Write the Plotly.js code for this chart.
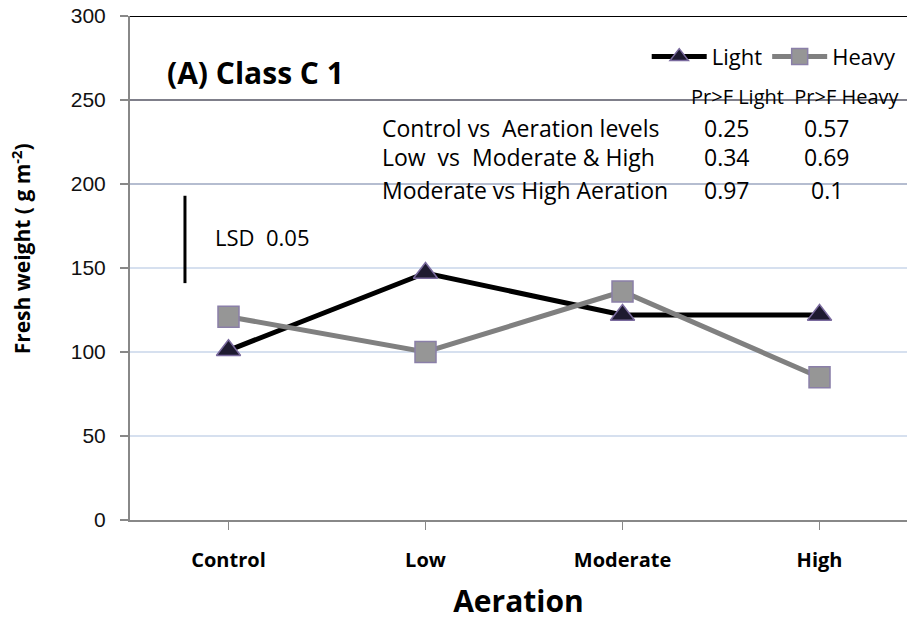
<!DOCTYPE html>
<html>
<head>
<meta charset="utf-8">
<script src="https://cdn.plot.ly/plotly-3.0.1.min.js"></script>
<style>html,body{margin:0;padding:0;background:#fff;}#chart{width:907px;height:621px;}</style>
</head>
<body>
<div id="chart"></div>
<script>
// ---- data ----
const categories = ["Control", "Low", "Moderate", "High"];
const lightValues = [101, 147, 122, 122];
const heavyValues = [121, 100, 136, 85];
const lsdRange = [141, 193];           // LSD 0.05 bar, low/high (g m-2)
const lsdLabel = "LSD  0.05";
const contrasts = ["Control vs&nbsp; Aeration levels", "Low&nbsp; vs&nbsp; Moderate &amp; High", "Moderate vs High Aeration"];
const prLight = ["0.25", "0.34", "0.97"];
const prHeavy = ["0.57", "0.69", "0.1"];
const prHeaders = ["Pr>F Light", "Pr>F Heavy"];
const yTicks = [0, 50, 100, 150, 200, 250, 300];

const FONT = "'Open Sans', Lato, sans-serif";

const traces = [
  {
    x: categories, y: lightValues, name: "Light", type: "scatter", mode: "lines+markers",
    line: {color: "#000000", width: 5},
    marker: {symbol: "triangle-up", size: 21, color: "#1e1a30", line: {color: "#7a6a9e", width: 1.5}}
  },
  {
    x: categories, y: heavyValues, name: "Heavy", type: "scatter", mode: "lines+markers",
    line: {color: "#808080", width: 5},
    marker: {symbol: "square", size: 21, color: "#969696", line: {color: "#8a7fa8", width: 1.5}}
  }
];

const annotations = [
  {xref: "paper", yref: "paper", x: 0.045, y: 0.887, xanchor: "left", yanchor: "middle",
   text: "<b>(A) Class C 1</b>", showarrow: false, font: {family: FONT, size: 30, color: "#000"}},
  {xref: "x", yref: "y", x: -0.079, y: 168.5, xanchor: "left", yanchor: "middle",
   text: lsdLabel, showarrow: false, font: {family: FONT, size: 22, color: "#000"}},
  {xref: "paper", yref: "paper", x: 0.719, y: 0.841, xanchor: "left", yanchor: "middle",
   text: prHeaders[0] + "&nbsp;&nbsp;" + prHeaders[1], showarrow: false,
   font: {family: FONT, size: 20, color: "#000"}}
];
const rowY = [0.778, 0.720, 0.655];
contrasts.forEach((c, i) => {
  annotations.push({xref: "paper", yref: "paper", x: 0.322, y: rowY[i], xanchor: "left", yanchor: "middle",
    text: c, showarrow: false, font: {family: FONT, size: 23, color: "#000"}});
  annotations.push({xref: "paper", yref: "paper", x: 0.768, y: rowY[i], xanchor: "center", yanchor: "middle",
    text: prLight[i], showarrow: false, font: {family: FONT, size: 23, color: "#000"}});
  annotations.push({xref: "paper", yref: "paper", x: 0.897, y: rowY[i], xanchor: "center", yanchor: "middle",
    text: prHeavy[i], showarrow: false, font: {family: FONT, size: 23, color: "#000"}});
});

const shapes = [
  {type: "line", xref: "paper", yref: "y", x0: 0, x1: 1, y0: 300, y1: 300, line: {color: "#000", width: 2}},
  {type: "line", xref: "paper", yref: "y", x0: 0, x1: 1, y0: 250, y1: 250, line: {color: "#7f7f8a", width: 2}},
  {type: "line", xref: "paper", yref: "y", x0: 0, x1: 1, y0: 200, y1: 200, line: {color: "#aab2c6", width: 1.5}},
  {type: "line", xref: "x", yref: "y", x0: -0.221, x1: -0.221, y0: lsdRange[0], y1: lsdRange[1], line: {color: "#000", width: 3}}
];

const layout = {
  width: 907, height: 621,
  margin: {l: 130, r: 0, t: 16, b: 101},
  paper_bgcolor: "#fff", plot_bgcolor: "#fff",
  showlegend: true,
  legend: {orientation: "h", x: 0.665, y: 0.919, xanchor: "left", yanchor: "middle",
           font: {family: FONT, size: 22, color: "#000"}, bgcolor: "rgba(0,0,0,0)", itemwidth: 55},
  xaxis: {
    type: "category", range: [-0.5, 3.444], showgrid: false, zeroline: false,
    showline: true, linecolor: "#888888", linewidth: 2,
    ticks: "outside", ticklen: 8, tickcolor: "#888888", tickwidth: 1.5,
    tickfont: {family: FONT, size: 20, color: "#000", weight: "bold"},
    ticklabelstandoff: 13,
    title: {text: "<b>Aeration</b>", font: {family: FONT, size: 30, color: "#000"}, standoff: 26}
  },
  yaxis: {
    range: [0, 300], tickvals: yTicks, showgrid: true, gridcolor: "#d6e0ef", gridwidth: 1.5,
    zeroline: false, showline: true, linecolor: "#888888", linewidth: 2,
    ticks: "outside", ticklen: 8, tickcolor: "#888888", tickwidth: 1.5,
    tickfont: {family: "'Liberation Sans', Arial, sans-serif", size: 21, color: "#111"},
    ticklabelstandoff: 10,
    title: {text: "<b>&nbsp;&nbsp;&nbsp;&nbsp;&nbsp;&nbsp;&nbsp;Fresh weight ( g m<sup>-2</sup>)</b>", font: {family: FONT, size: 21, color: "#000"}, standoff: 34}
  },
  annotations: annotations,
  shapes: shapes
};

Plotly.newPlot("chart", traces, layout, {displayModeBar: false, staticPlot: true});
</script>
</body>
</html>
